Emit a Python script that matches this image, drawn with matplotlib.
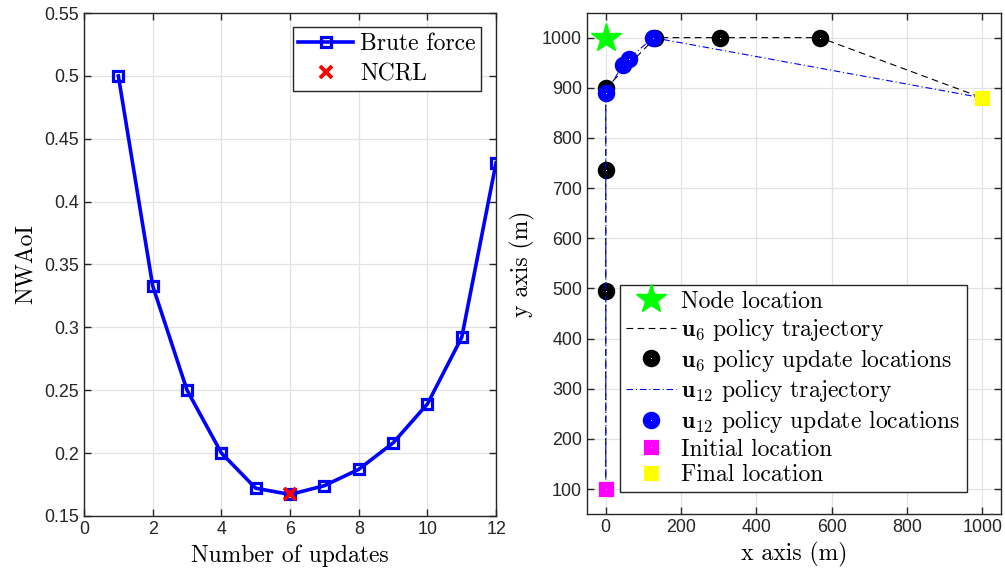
import matplotlib
matplotlib.use("Agg")
import matplotlib.pyplot as plt
from matplotlib.ticker import FuncFormatter

plt.rcParams['mathtext.fontset'] = 'cm'
plt.rcParams['font.family'] = ['Liberation Sans', 'DejaVu Sans']

# left panel: NWAoI vs number of updates
n_updates = [1, 2, 3, 4, 5, 6, 7, 8, 9, 10, 11, 12]
nwaoi = [0.5, 0.333, 0.25, 0.2, 0.172, 0.167, 0.174, 0.187, 0.208, 0.239, 0.292, 0.431]
ncrl_x = [6]
ncrl_y = [0.167]

# right panel: trajectories
node_xy = (0, 1000)
init_xy = (0, 100)
final_xy = (1000, 880)
u6_upd_x = [0, 0, 0, 132, 304, 569]
u6_upd_y = [495, 736, 899, 1000, 1000, 1000]
u12_upd_x = [0, 45, 62, 125]
u12_upd_y = [889, 945, 958, 1000]

GRID = '#e3e3e3'
SPINE = '#262626'
TICKC = '#262626'
SERIF = {'family': 'cmr10', 'size': 17}


def style_axes(ax):
    ax.grid(True, color=GRID, lw=0.9)
    ax.set_axisbelow(True)
    for s in ax.spines.values():
        s.set_color(SPINE)
        s.set_linewidth(1.0)
    ax.tick_params(direction='in', top=True, right=True, length=5,
                   color=SPINE, labelsize=12.9, labelcolor=TICKC, width=1.0)


fig = plt.figure(figsize=(10.05, 5.7), dpi=100)
ax1 = fig.add_axes([0.0836, 0.095, 0.41, 0.882])
ax2 = fig.add_axes([0.584, 0.098, 0.412, 0.880])

# ---- left ----
style_axes(ax1)
ax1.plot(n_updates, nwaoi, color='blue', lw=2.6, marker='s', ms=6.5,
         mfc='none', mec='blue', mew=2.3, label='Brute force')
ax1.plot(ncrl_x, ncrl_y, ls='none', marker='x', ms=8, mew=2.8,
         color='red', label='NCRL')
ax1.set_xlim(0, 12)
ax1.set_ylim(0.15, 0.55)
ax1.set_xticks(range(0, 13, 2))
ax1.set_yticks([0.15, 0.2, 0.25, 0.3, 0.35, 0.4, 0.45, 0.5, 0.55])
ax1.yaxis.set_major_formatter(FuncFormatter(lambda v, p: '%g' % round(v, 2)))
ax1.set_xlabel('Number of updates', fontdict=SERIF, labelpad=5)
ax1.set_ylabel('NWAoI', fontdict=SERIF, labelpad=5)
leg1 = ax1.legend(loc='upper right', prop=SERIF, fancybox=False,
                  edgecolor=SPINE, framealpha=1, handlelength=2.3,
                  handletextpad=0.3, labelspacing=0.33, borderpad=0.25,
                  borderaxespad=0, bbox_to_anchor=(0.964, 0.972))
leg1.get_frame().set_linewidth(1.0)

# ---- right ----
style_axes(ax2)
ax2.plot([node_xy[0]], [node_xy[1]], ls='none', marker='*', ms=22,
         color='#00ff00', label='Node location', zorder=5)
u6_x = [init_xy[0]] + u6_upd_x + [final_xy[0]]
u6_y = [init_xy[1]] + u6_upd_y + [final_xy[1]]
ax2.plot(u6_x, u6_y, color='black', ls=(0, (6, 4)), lw=0.8,
         label=r'$\mathbf{u}_6$ policy trajectory', zorder=3)
ax2.plot(u6_upd_x, u6_upd_y, ls='none', marker='o', ms=6.8, mfc='white',
         mec='black', mew=5.8, label=r'$\mathbf{u}_6$ policy update locations',
         zorder=4)
u12_x = [init_xy[0]] + u12_upd_x + [final_xy[0]]
u12_y = [init_xy[1]] + u12_upd_y + [final_xy[1]]
ax2.plot(u12_x, u12_y, color='blue', ls=(0, (6, 2.5, 1, 2.5)), lw=0.8,
         label=r'$\mathbf{u}_{12}$ policy trajectory', zorder=5)
ax2.plot(u12_upd_x, u12_upd_y, ls='none', marker='o', ms=6.8, mfc='white',
         mec='blue', mew=5.8, label=r'$\mathbf{u}_{12}$ policy update locations',
         zorder=4.5)
ax2.plot([init_xy[0]], [init_xy[1]], ls='none', marker='s', ms=6, mfc='white',
         mec='#ff00ff', mew=5.2, label='Initial location', zorder=6)
ax2.plot([final_xy[0]], [final_xy[1]], ls='none', marker='s', ms=6, mfc='white',
         mec='#ffff00', mew=5.2, label='Final location', zorder=6)
ax2.set_xlim(-50, 1050)
ax2.set_ylim(50, 1050)
ax2.set_xticks(range(0, 1001, 200))
ax2.set_yticks(range(100, 1001, 100))
ax2.set_xlabel('x axis (m)', fontdict=SERIF, labelpad=4)
ax2.set_ylabel('y axis (m)', fontdict=SERIF, labelpad=5)
leg2 = ax2.legend(loc='lower left', prop=SERIF, fancybox=False,
                  edgecolor=SPINE, framealpha=1, handlelength=2.1,
                  handletextpad=0.25, labelspacing=0.15, borderpad=0.25,
                  borderaxespad=0, bbox_to_anchor=(0.08, 0.044))
leg2.get_frame().set_linewidth(1.0)

fig.savefig('out.png', dpi=100)
